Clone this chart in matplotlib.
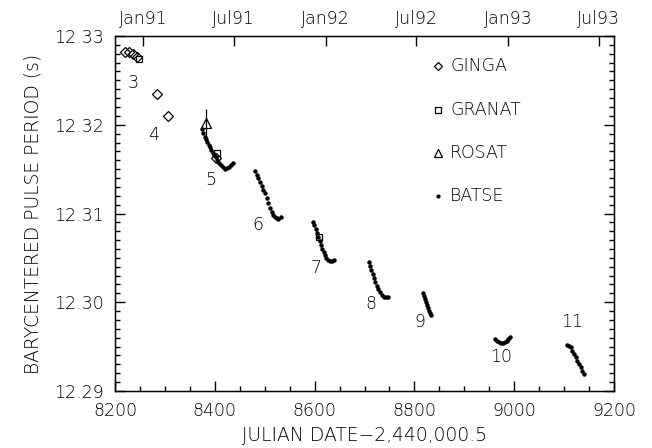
import numpy as np
import matplotlib
matplotlib.use('Agg')
import matplotlib.pyplot as plt
from matplotlib.ticker import MultipleLocator

# BATSE pulse periods, one list per outburst (5..11)
batse_t5 = [8375.0, 8377.0, 8379.7, 8382.4, 8385.0, 8387.7, 8390.4, 8393.0, 8395.7, 8398.4,
            8401.7, 8405.1, 8408.4, 8412.4, 8415.8, 8419.8, 8423.8, 8427.8, 8431.8, 8435.8]
batse_p5 = [12.31948, 12.31903, 12.31866, 12.31836, 12.31806, 12.31776, 12.31746, 12.31716, 12.31685, 12.31659,
            12.31633, 12.31603, 12.31573, 12.31543, 12.31520, 12.31505, 12.31513, 12.31528, 12.31550, 12.31573]
batse_t6 = [8480.6, 8483.9, 8487.2, 8490.6, 8493.9, 8497.3, 8500.6, 8503.9, 8507.3, 8510.6,
            8514.0, 8517.3, 8520.6, 8524.0, 8527.3, 8532.0]
batse_p6 = [12.31479, 12.31434, 12.31396, 12.31359, 12.31310, 12.31265, 12.31227, 12.31171, 12.31115, 12.31058,
            12.31021, 12.30983, 12.30957, 12.30946, 12.30942, 12.30957]
batse_t7 = [8597.5, 8599.5, 8602.1, 8604.8, 8607.5, 8610.2, 8612.8, 8615.5, 8618.2, 8620.8,
            8623.5, 8626.9, 8630.9, 8634.9, 8638.2]
batse_p7 = [12.30908, 12.30870, 12.30825, 12.30784, 12.30739, 12.30694, 12.30645, 12.30604, 12.30562, 12.30532,
            12.30502, 12.30476, 12.30465, 12.30465, 12.30472]
batse_t8 = [8709.0, 8711.0, 8713.7, 8716.4, 8719.0, 8721.7, 8724.4, 8727.7, 8731.1, 8735.1,
            8739.1, 8743.1, 8746.4]
batse_p8 = [12.30450, 12.30408, 12.30363, 12.30318, 12.30269, 12.30224, 12.30187, 12.30146, 12.30112, 12.30078,
            12.30059, 12.30055, 12.30059]
batse_t9 = [8816.6, 8818.6, 8820.6, 8822.6, 8824.6, 8826.6, 8828.6, 8830.6, 8832.6]
batse_p9 = [12.30100, 12.30070, 12.30037, 12.30003, 12.29969, 12.29935, 12.29901, 12.29879, 12.29856]
batse_t10 = [8961.5, 8964.9, 8968.9, 8972.9, 8976.9, 8980.9, 8984.9, 8988.2, 8990.9]
batse_p10 = [12.29586, 12.29567, 12.29552, 12.29545, 12.29545, 12.29552, 12.29567, 12.29590, 12.29605]
batse_t11 = [9105.1, 9109.1, 9113.2, 9116.5, 9119.8, 9123.2, 9126.5, 9129.9, 9133.2, 9136.5, 9140.5]
batse_p11 = [12.29518, 12.29511, 12.29492, 12.29454, 12.29417, 12.29379, 12.29338, 12.29300, 12.29267,
             12.29229, 12.29192]

ginga_t = [8220.0, 8228.7, 8236.7, 8243.4, 8284.8, 8305.5, 8401.7]
ginga_p = [12.32823, 12.32816, 12.32793, 12.32767, 12.32350, 12.32099, 12.31622]
granat_t = [8248.1, 8403.7, 8608.2]
granat_p = [12.32741, 12.31678, 12.30739]
rosat_t = [8382.4]
rosat_p = [12.32023]
rosat_err = [0.0015]

outburst_labels = ['3', '4', '5', '6', '7', '8', '9', '10', '11']
label_t = [8236.7, 8276.8, 8392.4, 8487.2, 8602.8, 8713.0, 8811.8, 8973.5, 9116.4]
label_p = [12.32474, 12.31885, 12.31377, 12.30870, 12.30383, 12.29980, 12.29781, 12.29380, 12.29774]

date_labels = ['Jan91', 'Jul91', 'Jan92', 'Jul92', 'Jan93', 'Jul93']
date_ticks = [8257, 8438, 8622, 8804, 8988, 9169]

legend_names = ['GINGA', 'GRANAT', 'ROSAT', 'BATSE']

plt.rcParams['font.family'] = ['DejaVu Sans']
plt.rcParams['font.weight'] = 'light'
plt.rcParams['axes.labelweight'] = 'light'
fs = 12.5

fig = plt.figure(figsize=(6.52, 4.48), dpi=100)
ax = fig.add_axes([115 / 652, 57 / 448, 499 / 652, 355 / 448])

batse_t = [batse_t5, batse_t6, batse_t7, batse_t8, batse_t9, batse_t10, batse_t11]
batse_p = [batse_p5, batse_p6, batse_p7, batse_p8, batse_p9, batse_p10, batse_p11]
for t, p in zip(batse_t, batse_p):
    ax.plot(t, p, 'o', color='black', ms=3.2, mew=0)

ax.plot(ginga_t, ginga_p, 'D', mfc='none', mec='black', ms=4.6, mew=0.9)
ax.plot(granat_t, granat_p, 's', mfc='none', mec='black', ms=5, mew=0.9)
ax.errorbar(rosat_t, rosat_p, yerr=rosat_err, fmt='^', mfc='none', mec='black',
            ecolor='black', ms=7, mew=0.9, elinewidth=0.9, capsize=0)

for s, t, p in zip(outburst_labels, label_t, label_p):
    ax.text(t, p, s, fontsize=fs, ha='center', va='center')

# legend drawn by hand, as in the original figure
leg_y = [0.915, 0.792, 0.670, 0.549]
leg_mk = [dict(marker='D', ms=4.2), dict(marker='s', ms=4.5), dict(marker='^', ms=5.5),
          dict(marker='o', ms=3.0)]
for name, y, mk in zip(legend_names, leg_y, leg_mk):
    filled = mk['marker'] == 'o'
    ax.plot([0.6475], [y], transform=ax.transAxes, color='black', ls='none',
            mfc='black' if filled else 'none', mec='black', mew=0.9 if not filled else 0, **mk)
    ax.text(0.672, y, name, transform=ax.transAxes, fontsize=fs, va='center', ha='left')

ax.set_xlim(8200, 9200)
ax.set_ylim(12.29, 12.33)
ax.xaxis.set_major_locator(MultipleLocator(200))
ax.xaxis.set_minor_locator(MultipleLocator(50))
ax.yaxis.set_major_locator(MultipleLocator(0.01))
ax.yaxis.set_minor_locator(MultipleLocator(0.001))
ax.yaxis.set_major_formatter(plt.FormatStrFormatter('%.2f'))
ax.tick_params(which='both', direction='in', right=True, top=False, labelsize=fs, width=1.0)
ax.tick_params(which='major', length=7.5, pad=8)
ax.tick_params(which='minor', length=3.8)
for sp in ax.spines.values():
    sp.set_linewidth(1.0)

ax.set_xlabel('JULIAN DATE\u22122,440,000.5', fontsize=13.5, labelpad=4)
ax.set_ylabel('BARYCENTERED PULSE PERIOD (s)', fontsize=13.5, labelpad=8)

top = ax.twiny()
top.set_xlim(ax.get_xlim())
top.set_xticks(date_ticks)
top.set_xticklabels(date_labels)
top.tick_params(direction='in', length=7.5, width=1.0, labelsize=fs, pad=6)
top.xaxis.set_minor_locator(plt.NullLocator())

fig.savefig('out.png', dpi=100)
